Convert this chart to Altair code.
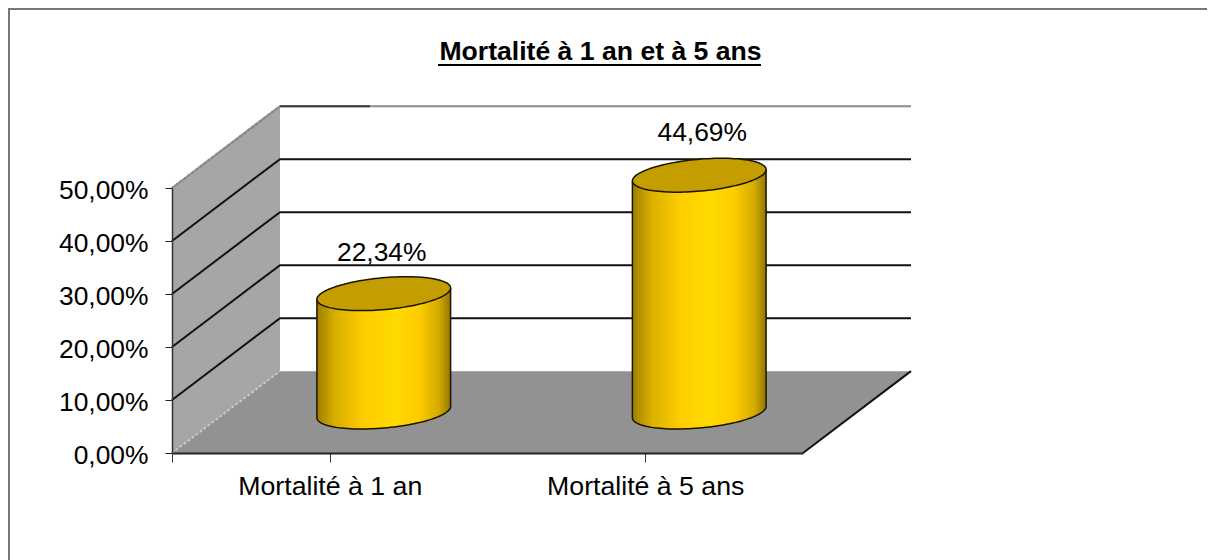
import math
import altair as alt
import pandas as pd

# ---- chart values ----
title_text = "Mortalité à 1 an et à 5 ans"
categories = ["Mortalité à 1 an", "Mortalité à 5 ans"]
values = [22.34, 44.69]
value_labels = ["22,34%", "44,69%"]
y_ticks = [0, 10, 20, 30, 40, 50]
label_nudge = [-2 / 315.5, 3 / 315.5]
label_lift = [-0.28, 0.0]

# ---- oblique projection, expressed in data units ----
DX = 108 / 315.5   # back-wall shift in category units
DY = 82 / 5.31     # back-wall shift in percentage points
RX = 63 / 315.5    # cylinder radius along the category axis
RD = 0.207         # cylinder radius along the depth axis
N = 2.0
DARK_TOP = 90 / 315.5  # dark start of the top back-wall line

FONT = "Liberation Sans"

def proj(u, v, d):
    return u + DX * d, v + DY * d

wall = pd.DataFrame([
    {"x": proj(0, 0, d)[0], "y": proj(0, 0, d)[1], "y2": proj(0, 50, d)[1]} for d in (0, 1)
])
floor = pd.DataFrame([
    {"y": proj(0, 0, 0)[1], "x": 0, "x2": N},
    {"y": proj(0, 0, 1)[1], "x": DX, "x2": N + DX},
])
grid = []
for v in y_ticks[1:]:
    for i, (u, d) in enumerate([(0, 0), (0, 1), (N, 1)]):
        x, y = proj(u, v, d)
        grid.append({"v": v, "i": i, "x": x, "y": y})
grid = pd.DataFrame(grid)
top_dark = pd.DataFrame([
    {"i": i, "x": proj(u, 50, 1)[0], "y": proj(u, 50, 1)[1]} for i, u in enumerate((0, DARK_TOP))
])
wall_top = pd.DataFrame([
    {"i": i, "x": proj(0, 50, d)[0], "y": proj(0, 50, d)[1]} for i, d in enumerate((0, 1))
])
wall_bottom = pd.DataFrame([
    {"i": i, "x": proj(0, 0, d)[0], "y": proj(0, 0, d)[1]} for i, d in enumerate((0, 1))
])
floor_edge = pd.DataFrame([
    {"i": i, "x": proj(N, 0, d)[0], "y": proj(N, 0, d)[1]} for i, d in enumerate((0, 1))
])

def ring(c, v, t):
    u = c + RX * math.cos(t)
    d = 0.5 + RD * math.sin(t)
    return proj(u, v, d)

tan = math.atan2(DX * RD, RX)   # parameter of the right-most point
M = 60
body_rows, cap_rows, outline_rows, cap_line_rows = [], [], [], []
for b, v in enumerate(values):
    c = b + 0.5
    for j in range(M + 1):
        t = (math.pi + tan) + math.pi * j / M
        x, ytop = ring(c, v, t)
        _, ybot = ring(c, 0, t)
        body_rows.append({"b": b, "x": x, "y": ytop, "y2": ybot})
        t2 = (math.pi + tan) - math.pi * j / M
        _, yback = ring(c, v, t2)
        cap_rows.append({"b": b, "x": x, "y": ytop, "y2": yback})
    seq = [ring(c, v, math.pi + tan)]
    for j in range(M + 1):
        seq.append(ring(c, 0, (math.pi + tan) + math.pi * j / M))
    seq.append(ring(c, v, tan))
    for i, (x, y) in enumerate(seq):
        outline_rows.append({"b": b, "i": i, "x": x, "y": y})
    for j in range(2 * M + 1):
        x, y = ring(c, v, 2 * math.pi * j / (2 * M))
        cap_line_rows.append({"b": b, "i": j, "x": x, "y": y})
body = pd.DataFrame(body_rows)
cap = pd.DataFrame(cap_rows)
outline = pd.DataFrame(outline_rows)
cap_line = pd.DataFrame(cap_line_rows)

labels = pd.DataFrame({
    "x": [b + 0.5 + DX * 0.5 + label_nudge[b] for b in range(2)],
    "y": [v + DY * 0.5 + label_lift[b] for b, v in enumerate(values)],
    "t": value_labels,
})
axis_df = pd.DataFrame({"c": categories, "v": [0, 0]})

# ---- scales ----
XS = alt.Scale(domain=[0, N], nice=False, zero=False)
YS = alt.Scale(domain=[0, 50], nice=False, zero=False)
X = lambda f="x": alt.X(f"{f}:Q", scale=XS, axis=None)
Y = lambda f="y": alt.Y(f"{f}:Q", scale=YS)
YAX = alt.Axis(title=None, values=y_ticks, labelExpr="replace(format(datum.value, '.2f'), '.', ',') + '%'",
               labelFont=FONT, labelFontSize=26.4, labelColor="#000000", labelPadding=17, labelOffset=2,
               tickColor="#222222", tickSize=7, tickWidth=1, domainColor="#333333", domainWidth=1.5,
               grid=False, zindex=1)

axes = alt.Chart(axis_df).mark_point(opacity=0).encode(
    x=alt.X("c:N", sort=categories, scale=alt.Scale(paddingInner=0, paddingOuter=0),
            axis=alt.Axis(title=None, labelAngle=0, labelFont=FONT, labelFontSize=26.7, labelColor="#000000",
                          labelPadding=11, labelLimit=500, bandPosition=0, tickExtra=True, tickColor="#333333",
                          tickSize=9, domainColor="#222222", domainWidth=2, grid=False, zindex=1)),
    y=alt.Y("v:Q", scale=YS, axis=YAX),
)

wall_l = alt.Chart(wall).mark_area(color="#A6A6A6", clip=False).encode(x=X(), y=Y(), y2="y2:Q")
floor_l = alt.Chart(floor).mark_area(color="#929292", orient="horizontal", clip=False).encode(
    x=X(), x2="x2:Q", y=Y())
wtop_l = alt.Chart(wall_top).mark_line(color="#4D4D4D", strokeWidth=2, strokeDash=[2, 3], clip=False).encode(
    x=X(), y=Y(), order="i:Q")
wbot_l = alt.Chart(wall_bottom).mark_line(color="#D0D0D0", strokeWidth=2, strokeDash=[2, 3], clip=False).encode(
    x=X(), y=Y(), order="i:Q")
grid_l = alt.Chart(grid[grid.v < 50]).mark_line(color="#111111", strokeWidth=2, clip=False).encode(
    x=X(), y=Y(), detail="v:N", order="i:Q")
top_l = alt.Chart(grid[grid.v == 50]).mark_line(color="#8C8C8C", strokeWidth=2, clip=False).encode(
    x=X(), y=Y(), order="i:Q")
topd_l = alt.Chart(top_dark).mark_line(color="#3A3A3A", strokeWidth=2, clip=False).encode(
    x=X(), y=Y(), order="i:Q")
fedge_l = alt.Chart(floor_edge).mark_line(color="#111111", strokeWidth=2, clip=False).encode(
    x=X(), y=Y(), order="i:Q")

grad = alt.Gradient(gradient="linear", x1=0, x2=1, y1=0, y2=0, stops=[
    alt.GradientStop(color="#9C7E00", offset=0),
    alt.GradientStop(color="#D9B000", offset=0.14),
    alt.GradientStop(color="#FFCC00", offset=0.35),
    alt.GradientStop(color="#FFDA00", offset=0.58),
    alt.GradientStop(color="#FFCC00", offset=0.76),
    alt.GradientStop(color="#D4AC00", offset=0.91),
    alt.GradientStop(color="#937600", offset=1),
])
body_l = alt.Chart(body).mark_area(color=grad, clip=False).encode(
    x=X(), y=Y(), y2="y2:Q", detail="b:N")
outline_l = alt.Chart(outline).mark_line(color="#1A1400", strokeWidth=1.5, clip=False).encode(
    x=X(), y=Y(), detail="b:N", order="i:Q")
cap_l = alt.Chart(cap).mark_area(color="#C49E00", clip=False).encode(
    x=X(), y=Y(), y2="y2:Q", detail="b:N")
capline_l = alt.Chart(cap_line).mark_line(color="#1A1400", strokeWidth=1.5, clip=False).encode(
    x=X(), y=Y(), detail="b:N", order="i:Q")
text_l = alt.Chart(labels).mark_text(font=FONT, fontSize=26.4, color="#000000", dy=-42, clip=False).encode(
    x=X(), y=Y(), text="t:N")

# frame and title underline (fixed furniture, positioned relative to the plot area)
frame_t = alt.Chart(axis_df.head(1)).mark_rule(color="#777777", strokeWidth=2, clip=False).encode(
    x=alt.value(-164), x2=alt.value(1043), y=alt.value(-179))
frame_l = alt.Chart(axis_df.head(1)).mark_rule(color="#777777", strokeWidth=2, clip=False).encode(
    x=alt.value(-163), y=alt.value(-180), y2=alt.value(372))
underline = alt.Chart(axis_df.head(1)).mark_rule(color="#000000", strokeWidth=2, clip=False).encode(
    x=alt.value(266), x2=alt.value(589), y=alt.value(-123))

quant = alt.layer(wall_l, floor_l, wtop_l, wbot_l, grid_l, top_l, topd_l, fedge_l, body_l, outline_l,
                  cap_l, capline_l, text_l, frame_t, frame_l, underline)

chart = alt.layer(axes, quant).resolve_scale(x="independent").properties(
    width=631, height=265,
    title=alt.TitleParams(title_text, font=FONT, fontSize=26.6, fontWeight="bold", color="#000000",
                          anchor="middle", dx=113, offset=-59),
    padding={"left": 164, "top": 180, "right": 404, "bottom": 107},
    autosize=alt.AutoSizeParams(type="none"),
    background="white",
).configure_view(stroke=None)

chart.save("out.html", embed_options={"renderer": "svg", "actions": False})
